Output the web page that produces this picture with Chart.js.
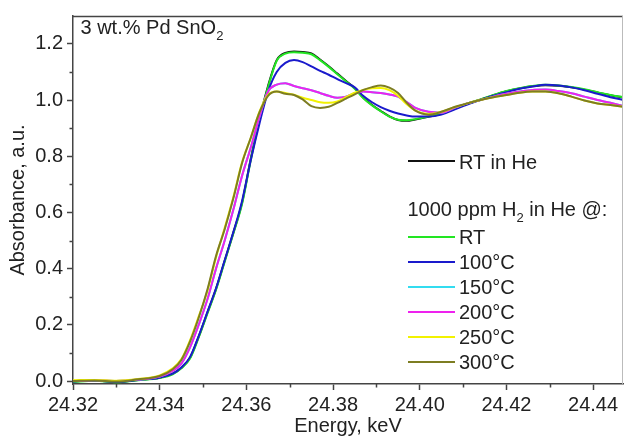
<!DOCTYPE html>
<html><head><meta charset="utf-8">
<script src="https://cdn.jsdelivr.net/npm/chart.js@4"></script>
<style>
html,body{margin:0;padding:0;background:#fff;}
#wrap{position:relative;width:626px;height:438px;font-family:"Liberation Sans",Arial,sans-serif;color:#222;overflow:hidden;}
#c{position:absolute;left:0;top:0;}
.lbl{position:absolute;font-size:20px;line-height:20px;white-space:nowrap;}
.lbl sub{font-size:13px;line-height:0;vertical-align:-6px;}
.ln{position:absolute;height:2px;width:47px;}
</style></head>
<body><div id="wrap"><canvas id="c" width="626" height="438"></canvas></div>
<script>
// ---- data ----
const energy = [24.320,24.325,24.330,24.335,24.340,24.343,24.345,24.347,24.349,24.351,24.353,24.355,24.357,24.359,24.361,24.363,24.365,24.367,24.369,24.371,24.373,24.375,24.377,24.379,24.381,24.383,24.385,24.387,24.389,24.391,24.393,24.395,24.397,24.399,24.402,24.405,24.408,24.411,24.414,24.417,24.420,24.423,24.426,24.429,24.432,24.435,24.438,24.441,24.444,24.447];
const rtHe = [-0.002,0.002,-0.003,0.004,0.012, 0.026,0.047,0.083,0.158, 0.243,0.328,0.428,0.528,0.634, 0.79,0.93,1.05,1.142,1.168, 1.173,1.171,1.166,1.144,1.12, 1.094,1.068,1.042,1.008,0.982, 0.961,0.942,0.929,0.926,0.931, 0.940,0.951,0.969,0.987,1.001, 1.017,1.031,1.041,1.049,1.053, 1.051,1.045,1.037,1.027,1.017, 1.009];
const rtH2 = [-0.003,0.001,-0.004,0.003,0.011, 0.024,0.045,0.08,0.155, 0.24,0.325,0.425,0.525,0.63, 0.785,0.925,1.045,1.14,1.165, 1.170,1.168,1.163,1.142,1.118, 1.092,1.066,1.040,1.006,0.981, 0.960,0.941,0.930,0.928,0.932, 0.941,0.952,0.970,0.988,1.002, 1.018,1.032,1.042,1.050,1.054, 1.052,1.046,1.038,1.028,1.018, 1.010];
const t100 = [-0.002,0.002,-0.003,0.004,0.012, 0.026,0.048,0.085,0.16, 0.245,0.33,0.43,0.53,0.64, 0.785,0.915,1.03,1.100,1.132, 1.142,1.135,1.120,1.104,1.090, 1.074,1.060,1.045,1.014,0.992, 0.975,0.962,0.952,0.945,0.941, 0.941,0.948,0.966,0.984,1.000, 1.015,1.028,1.040,1.048,1.054, 1.052,1.045,1.035,1.022,1.010, 1.000];
const t150 = [0.000,0.003,0.000,0.005,0.016, 0.036,0.062,0.12,0.2, 0.29,0.40,0.50,0.61,0.73, 0.83,0.94,1.03,1.055,1.060, 1.050,1.042,1.035,1.025,1.015, 1.008,1.012,1.024,1.030,1.028, 1.025,1.020,1.012,0.993,0.972, 0.958,0.955,0.972,0.988,1.000, 1.012,1.022,1.030,1.036,1.037, 1.032,1.024,1.012,1.000,0.990, 0.978];
const t200 = [0.000,0.003,0.000,0.005,0.016, 0.036,0.062,0.12,0.2, 0.29,0.40,0.50,0.61,0.73, 0.83,0.94,1.03,1.055,1.060, 1.050,1.042,1.035,1.025,1.015, 1.008,1.012,1.024,1.030,1.028, 1.025,1.020,1.012,0.993,0.972, 0.958,0.955,0.972,0.988,1.000, 1.012,1.022,1.030,1.036,1.037, 1.032,1.024,1.012,1.000,0.990, 0.978];
const t250 = [0.003,0.004,0.001,0.007,0.02, 0.045,0.078,0.145,0.23, 0.32,0.44,0.545,0.655,0.778, 0.865,0.958,1.018,1.030,1.025, 1.019,1.008,1.000,0.992,0.990, 0.995,1.010,1.026,1.036,1.042, 1.043,1.035,1.015,0.985,0.962, 0.950,0.958,0.974,0.988,1.000, 1.010,1.018,1.026,1.030,1.030, 1.024,1.012,0.998,0.988,0.982, 0.976];
const t300 = [0.000,0.002,-0.002,0.006,0.018, 0.042,0.075,0.14,0.225, 0.325,0.445,0.54,0.65,0.775, 0.865,0.955,1.015,1.030,1.022, 1.018,1.002,0.978,0.972,0.976, 0.990,1.005,1.020,1.036,1.046, 1.052,1.044,1.025,0.990,0.962, 0.948,0.958,0.975,0.988,1.000, 1.010,1.018,1.026,1.030,1.030, 1.024,1.012,0.998,0.988,0.982, 0.976];
const seriesLabels = ["RT in He","RT","100°C","150°C","200°C","250°C","300°C"];
const seriesColors = ["#111111","#22e622","#1a1acc","#33dcf0","#ee22ee","#f2f200","#7d7d22"];
const seriesValues = [rtHe, rtH2, t100, t150, t200, t250, t300];
const xTicks = [24.32,24.34,24.36,24.38,24.40,24.42,24.44];
const xMinor = [24.33,24.35,24.37,24.39,24.41,24.43];
const yTicks = [0.0,0.2,0.4,0.6,0.8,1.0,1.2];
const yMinor = [0.1,0.3,0.5,0.7,0.9,1.1];
const sampleLabel = "3 wt.% Pd SnO";
const legendHeader = "1000 ppm H";

// ---- chart ----
const FONT = '"Liberation Sans", Arial, sans-serif';
const AX = '#444';
const framePlugin = {
  id:'frame',
  afterDraw(chart){
    const {ctx, chartArea:a, scales:{x,y}} = chart;
    ctx.save();
    ctx.strokeStyle = AX; ctx.lineWidth = 1.5;
    ctx.beginPath();
    ctx.moveTo(a.left, a.top+0.5); ctx.lineTo(a.right, a.top+0.5);
    ctx.stroke();
    ctx.lineWidth = 1;
    ctx.strokeStyle = '#bbb';
    ctx.beginPath(); ctx.moveTo(a.right-0.5, a.top); ctx.lineTo(a.right-0.5, a.bottom); ctx.stroke();
    ctx.strokeStyle = AX; ctx.lineWidth = 1.5;
    ctx.beginPath();
    xMinor.forEach(v=>{const p=Math.round(x.getPixelForValue(v))+0.5; ctx.moveTo(p,a.bottom); ctx.lineTo(p,a.bottom+3.5);});
    yMinor.forEach(v=>{const p=Math.round(y.getPixelForValue(v))+0.5; ctx.moveTo(a.left,p); ctx.lineTo(a.left-3.5,p);});
    ctx.stroke();
    ctx.restore();
  }
};
const n = seriesLabels.length;
new Chart(document.getElementById('c'), {
  type:'line',
  data:{datasets: seriesLabels.map((lab,k)=>({
    label:lab,
    data: energy.map((e,i)=>({x:e, y:seriesValues[k][i]})),
    borderColor:seriesColors[k], backgroundColor:seriesColors[k],
    borderWidth:2, pointRadius:0, fill:false,
    cubicInterpolationMode:'monotone', order:n-k
  }))},
  options:{
    responsive:false, animation:false, devicePixelRatio:1,
    layout:{padding:{top:12,right:3,left:0,bottom:0}},
    plugins:{legend:{display:false}, tooltip:{enabled:false}},
    scales:{
      x:{type:'linear', min:24.32, max:24.4469,
        afterFit:s=>{s.height=54;},
        afterBuildTicks:s=>{s.ticks = xTicks.map(v=>({value:v}));},
        ticks:{callback:v=>Number(v).toFixed(2), font:{size:20,family:FONT}, color:'#222', padding:3, maxRotation:0, autoSkip:false},
        grid:{drawOnChartArea:false, tickLength:6, color:AX, tickColor:AX, tickWidth:1.5},
        border:{display:true, color:AX, width:1.5},
        title:{display:true, text:'Energy, keV', font:{size:20,family:FONT}, color:'#222', padding:{top:0,bottom:0}}
      },
      y:{type:'linear', min:-0.0106, max:1.299,
        afterFit:s=>{s.width=73;},
        afterBuildTicks:s=>{s.ticks = yTicks.map(v=>({value:v}));},
        ticks:{callback:v=>Number(v).toFixed(1), font:{size:20,family:FONT}, color:'#222', padding:4, autoSkip:false},
        grid:{drawOnChartArea:false, tickLength:6, color:AX, tickColor:AX, tickWidth:1.5},
        border:{display:true, color:AX, width:1.5},
        title:{display:true, text:'Absorbance, a.u.', font:{size:20,family:FONT}, color:'#222', padding:{top:6,bottom:0}}
      }
    }
  },
  plugins:[framePlugin]
});

// ---- text overlays & legend ----
const wrap = document.getElementById('wrap');
function addText(html, left, top){const d=document.createElement('div'); d.className='lbl'; d.style.left=left+'px'; d.style.top=top+'px'; d.innerHTML=html; wrap.appendChild(d);}
function addLine(color, left, y){const d=document.createElement('div'); d.className='ln'; d.style.left=left+'px'; d.style.top=(y-1)+'px'; d.style.background=color; wrap.appendChild(d);}
addText(sampleLabel+'<sub>2</sub>', 80.5, 16.7);
// legend
addLine(seriesColors[0], 408, 160.7); addText(seriesLabels[0], 459, 152);
addText(legendHeader+'<sub>2</sub> in He @:', 407.5, 199);
for(let k=1;k<n;k++){const ly=236.7+25*(k-1); addLine(seriesColors[k],408,ly); addText(seriesLabels[k],459,ly-9.3);}
</script>
</body></html>
